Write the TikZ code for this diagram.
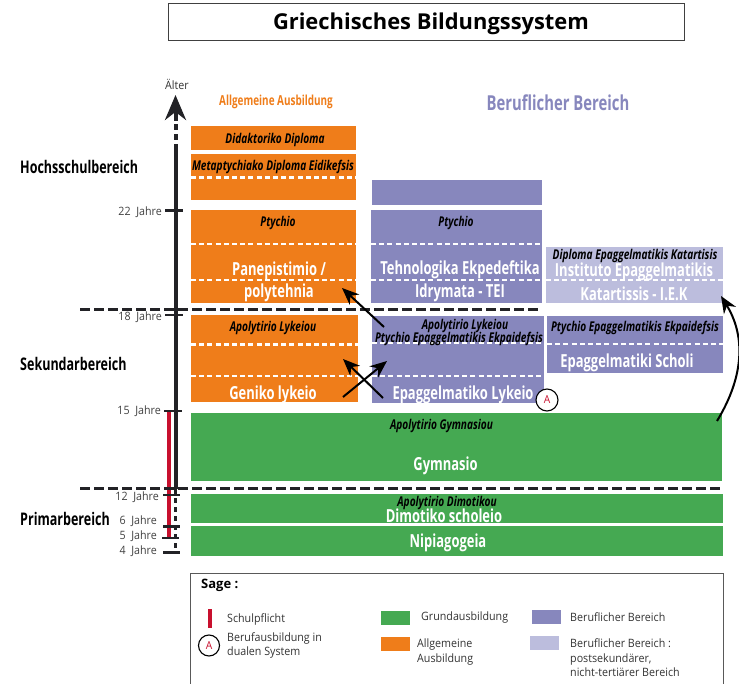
\documentclass[tikz,border=0pt]{standalone}
\usepackage{fontspec}
\setmainfont{Open Sans}
\newfontfamily\condfont[FakeStretch=0.72]{Open Sans}
\newfontfamily\certfont[FakeStretch=0.75]{Open Sans}
\newfontfamily\legendfont[FakeStretch=0.93]{Open Sans}
\usetikzlibrary{arrows.meta}
\definecolor{orangebg}{HTML}{EF7D1A}
\definecolor{greenbg}{HTML}{45A952}
\definecolor{bluebg}{HTML}{8787BD}
\definecolor{lightbg}{HTML}{BCBDDD}
\definecolor{redbar}{HTML}{C8102E}
\definecolor{inkline}{HTML}{222226}
\begin{document}
\begin{tikzpicture}[x=1pt,y=-1pt,
box/.style={inner sep=0pt,outer sep=0pt,anchor=north west},
whitedash/.style={white,line width=2.5pt,dash pattern=on 5pt off 3.2pt},
sectionline/.style={inkline,line width=3pt,dash pattern=on 9.5pt off 4.5pt},
tickline/.style={inkline,line width=2.5pt},
agelabel/.style={anchor=east,inner sep=0pt,yshift=-1pt,font=\legendfont\fontsize{11.5}{12}\selectfont,text=black!75},
arealabel/.style={anchor=west,inner sep=0pt,font=\condfont\bfseries\fontsize{17.4}{18}\selectfont},
certlabel/.style={inner sep=0pt,yshift=-2pt,font=\certfont\bfseries\itshape\fontsize{13.5}{14}\selectfont},
schoollabel/.style={inner sep=0pt,yshift=-2pt,text=white,font=\condfont\bfseries\fontsize{18}{19}\selectfont},
legendlabel/.style={anchor=west,inner sep=0pt,yshift=-1pt,align=left,text=black!80,font=\legendfont\fontsize{11.5}{14.5}\selectfont},
pathArrow/.style={-{Stealth[length=17pt,width=14pt]},line width=2pt,black},
dualcircle/.style={circle,draw=black,line width=1.1pt,fill=white,inner sep=0pt,text=redbar,font=\legendfont\fontsize{11}{11}\selectfont}]
\useasboundingbox (0,0) rectangle (739,684);
\node [box,draw=black!75,line width=1pt,minimum width=516pt,minimum height=37pt] (titlebox) at (168,4) {};
\node [inner sep=0pt,font=\bfseries\fontsize{21.9}{23}\selectfont] (title) at (431,24) {Griechisches Bildungssystem};
\node [inner sep=0pt,text=orangebg,font=\condfont\bfseries\fontsize{13.8}{14}\selectfont] (generalhead) at (276,102) {Allgemeine Ausbildung};
\node [inner sep=0pt,text=bluebg,font=\condfont\bfseries\fontsize{20.6}{21}\selectfont] (vocationalhead) at (558,103) {Beruflicher Bereich};
% orange column
\node [box,fill=orangebg,minimum width=165pt,minimum height=24.5pt] (didaktoriko) at (191,126) {};
\node [box,fill=orangebg,minimum width=165pt,minimum height=46pt] (metaptychiako) at (191,154) {};
\node [box,fill=orangebg,minimum width=165pt,minimum height=93pt] (panepistimio) at (191,210) {};
\node [box,fill=orangebg,minimum width=167pt,minimum height=87pt] (geniko) at (191,315) {};
\draw [whitedash] (191,177.5) -- (356,177.5);
\draw [whitedash] (191,244) -- (356,244);
\draw [whitedash] (191,280) -- (356,280);
\draw [whitedash] (191,344.5) -- (358,344.5);
\draw [whitedash] (191,376) -- (358,376);
% blue column
\node [box,fill=bluebg,minimum width=170pt,minimum height=25pt] (bluetop) at (372,180) {};
\node [box,fill=bluebg,minimum width=171pt,minimum height=93pt] (tei) at (371,210) {};
\node [box,fill=bluebg,minimum width=172pt,minimum height=87pt] (epalykeio) at (372,316) {};
\draw [whitedash] (371,244) -- (542,244);
\draw [whitedash] (371,280) -- (542,280);
\draw [whitedash] (372,343) -- (544,343);
\draw [whitedash] (372,376) -- (544,376);
% right column
\node [box,fill=lightbg,minimum width=177pt,minimum height=56pt] (iek) at (546,247) {};
\node [box,fill=bluebg,minimum width=176pt,minimum height=57pt] (scholi) at (547,316) {};
\draw [whitedash] (546,280) -- (723,280);
\draw [whitedash] (547,344) -- (723,344);
% green bands
\node [box,fill=greenbg,minimum width=531pt,minimum height=68pt] (gymnasio) at (191,413) {};
\node [box,fill=greenbg,minimum width=532pt,minimum height=29pt] (dimotiko) at (191,494) {};
\node [box,fill=greenbg,minimum width=532pt,minimum height=30pt] (nipiagogeia) at (191,526) {};
% age axis
\coordinate (axislow) at (175.5,489);
\coordinate (axismid) at (175.5,150);
\coordinate (axisneck) at (175.5,121);
\coordinate (axistop) at (175.5,95);
\coordinate (axisend) at (175.5,550);
\draw [redbar,line width=4.5pt] (169,411) -- (169,537);
\draw [inkline,line width=4pt] (axislow) -- (axismid);
\draw [inkline,line width=4pt,dash pattern=on 6pt off 4pt] (axismid) -- (axisneck);
\draw [inkline,line width=4pt,-{Stealth[length=25pt,width=21pt]}] (axisneck) -- (axistop);
\draw [inkline,line width=3pt,dash pattern=on 5pt off 4pt] (axislow) -- (axisend);
\draw [tickline] (165,210.7) -- (183,210.7);
\draw [tickline] (165,315) -- (183,315);
\draw [tickline] (164,411) -- (182,411);
\draw [tickline] (163,495) -- (180,495);
\draw [tickline] (163,526.7) -- (180,526.7);
\draw [tickline] (162,538) -- (179,538);
\draw [tickline] (163,552.7) -- (180,552.7);
\draw [sectionline] (80,309.5) -- (542,309.5);
\draw [sectionline] (80,488.5) -- (723,488.5);
\node [inner sep=0pt,text=black!80,font=\legendfont\fontsize{11.5}{12}\selectfont] (older) at (177,84) {Älter};
\node [agelabel] (age22) at (162,211) {22\ \ Jahre};
\node [agelabel] (age18) at (162,316) {18\ \ Jahre};
\node [agelabel] (age15) at (161,410) {15\ \ Jahre};
\node [agelabel] (age12) at (159,496) {12\ \ Jahre};
\node [agelabel] (age6) at (157,520) {6\ \ Jahre};
\node [agelabel] (age5) at (157,535) {5\ \ Jahre};
\node [agelabel] (age4) at (157,550) {4\ \ Jahre};
\node [arealabel] (higher) at (20,167) {Hochsschulbereich};
\node [arealabel] (secondary) at (20,364) {Sekundarbereich};
\node [arealabel] (primary) at (20,519) {Primarbereich};
% labels in boxes
\node [certlabel] (didaktorikotext) at (275,138) {Didaktoriko Diploma};
\node [certlabel] (metaptychiakotext) at (273,165) {Metaptychiako Diploma Eidikefsis};
\node [certlabel] (ptychioA) at (278,221) {Ptychio};
\node [schoollabel] (panepistimiotext) at (279,269) {Panepistimio /};
\node [schoollabel] (polytehniatext) at (279,291) {polytehnia};
\node [certlabel] (apolytirioA) at (273,326) {Apolytirio Lykeiou};
\node [schoollabel] (genikotext) at (273,393) {Geniko lykeio};
\node [certlabel] (ptychioB) at (456,221) {Ptychio};
\node [schoollabel] (teitextA) at (460,268) {Tehnologika Ekpedeftika};
\node [schoollabel] (teitextB) at (460,291) {Idrymata - TEI};
\node [certlabel] (apolytirioB) at (465,324) {Apolytirio Lykeiou};
\node [certlabel] (ptychioC) at (459,337) {Ptychio Epaggelmatikis Ekpaidefsis};
\node [schoollabel] (epalykeiotext) at (463,393) {Epaggelmatiko Lykeio};
\node [certlabel] (diplomaiek) at (635,254) {Diploma Epaggelmatikis Katartisis};
\node [schoollabel] (iektextA) at (634,270) {Instituto Epaggelmatikis};
\node [schoollabel] (iektextB) at (634,292) {Katartissis - I.E.K};
\node [certlabel] (ptychioD) at (635,326) {Ptychio Epaggelmatikis Ekpaidefsis};
\node [schoollabel] (scholitext) at (627,361) {Epaggelmatiki Scholi};
\node [certlabel] (apolytirioC) at (441.5,424) {Apolytirio Gymnasiou};
\node [schoollabel] (gymnasiotext) at (445.5,464) {Gymnasio};
\node [certlabel] (apolytirioD) at (447,501) {Apolytirio Dimotikou};
\node [schoollabel] (dimotikotext) at (444,514) {Dimotiko scholeio};
\node [schoollabel] (nipiagogeiatext) at (448,541) {Nipiagogeia};
\node [dualcircle,minimum size=22pt] (dualA) at (547,400) {A};
% pathways
\coordinate (teifrom) at (384,327);
\coordinate (teito) at (342,288);
\coordinate (crossAfrom) at (383,398);
\coordinate (crossAto) at (343,359);
\coordinate (crossBfrom) at (343,397);
\coordinate (crossBto) at (387,361);
\coordinate (gymfrom) at (717,421);
\coordinate (iekto) at (721,296);
\draw [pathArrow] (teifrom) -- (teito);
\draw [pathArrow] (crossAfrom) -- (crossAto);
\draw [pathArrow] (crossBfrom) -- (crossBto);
\draw [pathArrow] (gymfrom) .. controls (745,375) and (745,335) .. (iekto);
% key
\node [box,draw=black!65,line width=1pt,minimum width=533pt,minimum height=120pt] (keybox) at (190,573) {};
\node [anchor=west,inner sep=0pt,font=\bfseries\fontsize{13}{14}\selectfont] (keytitle) at (201,585) {Sage :};
\coordinate (keybartop) at (210,609);
\coordinate (keybarlow) at (210,628);
\draw [redbar,line width=4pt] (keybartop) -- (keybarlow);
\node [legendlabel] (keyschool) at (227,618) {Schulpflicht};
\node [dualcircle,minimum size=21pt] (keydual) at (209,645.5) {A};
\node [legendlabel] (keydualtext) at (227,644.5) {Berufausbildung in\\dualen System};
\node [box,fill=greenbg,minimum width=29pt,minimum height=14pt] (keygreen) at (381,611) {};
\node [legendlabel] (keygreentext) at (421,617) {Grundausbildung};
\node [box,fill=orangebg,minimum width=29pt,minimum height=14pt] (keyorange) at (381,637) {};
\node [legendlabel] (keyorangetext) at (417,651) {Allgemeine\\Ausbildung};
\node [box,fill=bluebg,minimum width=29pt,minimum height=14pt] (keyblue) at (532,610) {};
\node [legendlabel] (keybluetext) at (570,616) {Beruflicher Bereich};
\node [box,fill=lightbg,minimum width=29pt,minimum height=14pt] (keylight) at (530,636) {};
\node [legendlabel] (keylighttext) at (570,657) {Beruflicher Bereich :\\postsekundärer,\\nicht-tertiärer Bereich};
\end{tikzpicture}
\end{document}
